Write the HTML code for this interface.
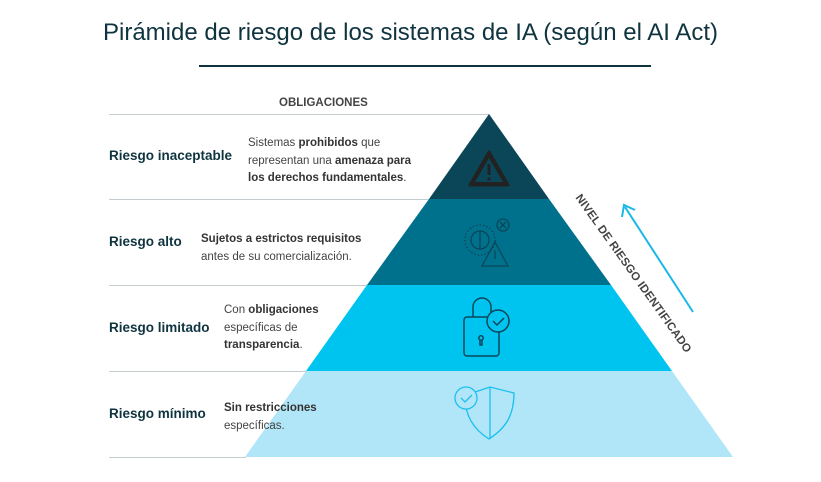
<!DOCTYPE html>
<html><head><meta charset="utf-8"><style>
body{margin:0;width:821px;height:482px;background:#fff;font-family:"Liberation Sans",sans-serif;position:relative;overflow:hidden}
.t{position:absolute;white-space:nowrap}
.h{font-weight:bold;color:#0f3440;font-size:13.5px}
.d{color:#444;font-size:11.5px;line-height:17.5px}
.d b{color:#333}
</style></head><body>
<div class="t" style="left:0;width:821px;text-align:center;top:19px;font-size:24px;color:#0f3440">Pirámide de riesgo de los sistemas de IA (según el AI Act)</div>
<svg width="821" height="482" style="position:absolute;left:0;top:0">
<line x1="199" y1="66" x2="651" y2="66" stroke="#0f3440" stroke-width="2"/>
<g stroke="#c5ccd0" stroke-width="1">
<line x1="109" y1="114.5" x2="489" y2="114.5"/>
<line x1="109" y1="199.5" x2="430" y2="199.5"/>
<line x1="109" y1="285.5" x2="368" y2="285.5"/>
<line x1="109" y1="371.5" x2="307" y2="371.5"/>
<line x1="109" y1="457.5" x2="246" y2="457.5"/>
</g>
<polygon points="489,114 549,199 429,199" fill="#0b4658"/>
<polygon points="429,199 549,199 611,285 367,285" fill="#00718c"/>
<polygon points="367,285 611,285 672,371 306,371" fill="#00c4f0"/>
<polygon points="306,371 672,371 733,457 245,457" fill="#b1e5f8"/>
<polygon points="489,152 508,185 470,185" fill="#222" stroke="#222" stroke-width="3" stroke-linejoin="round"/>
<polygon points="489,158 503,182 475,182" fill="#0b4658"/>
<rect x="487.5" y="164" width="3" height="11" fill="#222"/><circle cx="489" cy="179" r="1.6" fill="#222"/>
<g fill="none" stroke="#0b4658" stroke-width="1.3">
<circle cx="480" cy="240" r="15" stroke-dasharray="1.5 2"/>
<circle cx="480" cy="240" r="9"/><line x1="480" y1="231" x2="480" y2="249"/>
<circle cx="503" cy="225" r="6"/><path d="M500,222l6,6M506,222l-6,6"/>
<polygon points="495,242 508,266 482,266"/><line x1="495" y1="250" x2="495" y2="259"/>
</g>
<g fill="none" stroke="#0b4658" stroke-width="1.5">
<path d="M473,317v-10a9,9 0 0 1 18,0v5"/>
<rect x="464" y="317" width="35" height="39" rx="3"/>
<circle cx="481" cy="338" r="2.2"/><path d="M480,340v5h2v-5"/>
<circle cx="498" cy="321" r="11" fill="#00c4f0"/><path d="M493,321l4,4 7,-7"/>
</g>
<g fill="none" stroke="#1cc0ef" stroke-width="1.3">
<path d="M475,392l15,-5 24,6c0,22-8,35-25,46c-16-10-24-24-24-42z"/>
<path d="M490,387v52"/>
<circle cx="466" cy="398" r="11" fill="#b1e5f8"/><path d="M461,398l4,4 7,-7"/>
</g>
<line x1="693" y1="312" x2="625" y2="207" stroke="#1ab8e6" stroke-width="2"/>
<path d="M622,217l2,-12 11,5" fill="none" stroke="#1ab8e6" stroke-width="2"/>
</svg>
<div class="t" style="left:546px;top:251px;width:150px;text-align:center;font-size:11.5px;font-weight:bold;color:#444;transform:rotate(54.6deg);transform-origin:50% 50%;letter-spacing:0.2px">NIVEL DE RIESGO IDENTIFICADO</div>
<div class="t" style="left:279px;top:97px;font-size:11.5px;font-weight:bold;color:#444">OBLIGACIONES</div>
<div class="t h" style="left:109px;top:148px">Riesgo inaceptable</div>
<div class="t d" style="left:248px;top:135px">Sistemas <b>prohibidos</b> que<br>representan una <b>amenaza para</b><br><b>los derechos fundamentales</b>.</div>
<div class="t h" style="left:109px;top:234px">Riesgo alto</div>
<div class="t d" style="left:201px;top:231px"><b>Sujetos a estrictos requisitos</b><br>antes de su comercialización.</div>
<div class="t h" style="left:109px;top:320px">Riesgo limitado</div>
<div class="t d" style="left:224px;top:302px">Con <b>obligaciones</b><br>específicas de<br><b>transparencia</b>.</div>
<div class="t h" style="left:109px;top:406px">Riesgo mínimo</div>
<div class="t d" style="left:224px;top:400px"><b>Sin restricciones</b><br>específicas.</div>
</body></html>
